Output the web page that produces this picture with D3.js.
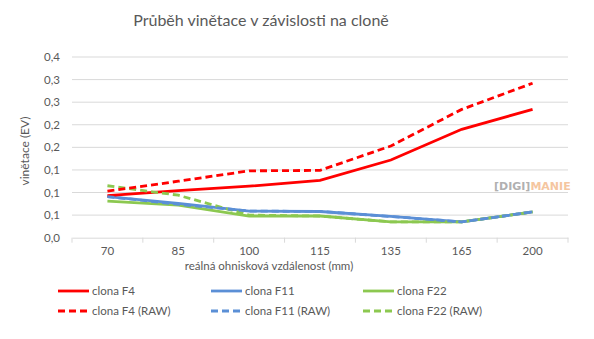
<!DOCTYPE html>
<html><head><meta charset="utf-8">
<script src="https://cdn.jsdelivr.net/npm/d3@7"></script>
<style>body{margin:0;background:#fff}svg{display:block}text{font-family:Lato,"Open Sans",sans-serif;fill:#595959}</style>
</head><body><svg id="c" width="594" height="339"></svg>
<script>
const categories = ["70","85","100","115","135","165","200"];
const yTicks = [0,0.05,0.1,0.15,0.2,0.25,0.3,0.35,0.4];
const yTickLabels = ["0,0","0,1","0,1","0,1","0,2","0,2","0,3","0,3","0,4"];
const f4 = [0.093,0.104,0.114,0.127,0.172,0.240,0.284];
const f11 = [0.091,0.076,0.059,0.058,0.047,0.035,0.057];
const f22 = [0.081,0.072,0.048,0.048,0.035,0.035,0.057];
const f4raw = [0.103,0.125,0.148,0.149,0.203,0.284,0.342];
const f11raw = [0.091,0.074,0.059,0.058,0.047,0.035,0.057];
const f22raw = [0.115,0.094,0.050,0.048,0.035,0.035,0.057];
const seriesNames = ["clona F4","clona F11","clona F22","clona F4 (RAW)","clona F11 (RAW)","clona F22 (RAW)"];
const seriesColors = ["#ff0000","#5b8fd6","#8cc850","#ff0000","#5b8fd6","#8cc850"];
const seriesData = [f4,f11,f22,f4raw,f11raw,f22raw];
const seriesDashed = [false,false,false,true,true,true];

const svg = d3.select("#c");
const L=72,R=568,T=57,B=237.7;
const x = d3.scaleBand().domain(categories).range([L,R]);
const y = d3.scaleLinear().domain([0,0.4]).range([B,T]);

svg.append("text").attr("x",261).attr("y",26).attr("text-anchor","middle")
  .style("font-size","16px").text("Průběh vinětace v závislosti na cloně");

svg.append("g").selectAll("line").data(yTicks.slice(1)).join("line")
  .attr("x1",L).attr("x2",R).attr("y1",d=>y(d)).attr("y2",d=>y(d))
  .attr("stroke","#d9d9d9").attr("stroke-width",1);

svg.append("g").selectAll("text").data(yTicks).join("text")
  .attr("x",60).attr("y",d=>y(d)+4).attr("text-anchor","end")
  .style("font-size","11.5px").text((d,i)=>yTickLabels[i]);

const xa = svg.append("g").attr("transform",`translate(0,${B})`)
  .call(d3.axisBottom(x).tickSize(0).tickPadding(9));
xa.select(".domain").attr("stroke","#d9d9d9");
xa.selectAll("text").style("font-size","11.5px").attr("fill","#595959").style("font-family","Lato");
const bounds = categories.map(c=>x(c)).concat([R]);
xa.selectAll("line.b").data(bounds).join("line").attr("class","b")
  .attr("x1",d=>d).attr("x2",d=>d).attr("y1",0).attr("y2",5).attr("stroke","#d9d9d9");

svg.append("text").attr("x",269).attr("y",270).attr("text-anchor","middle")
  .style("font-size","11.5px").text("reálná ohnisková vzdálenost (mm)");
svg.append("text").attr("transform","translate(29,151) rotate(-90)").attr("text-anchor","middle")
  .style("font-size","12px").text("vinětace (EV)");

const wm = svg.append("text").attr("x",494).attr("y",190).style("font-size","11px").style("font-weight","bold").style("font-family","'DejaVu Sans'");
wm.append("tspan").style("fill","#b0b0b0").text("[DIGI]");
wm.append("tspan").style("fill","#f5c6a0").text("MANIE");

const line = d3.line().x((d,i)=>x(categories[i])+x.bandwidth()/2).y(d=>y(d));
const order=[2,1,0,5,4,3];
order.forEach(i=>{
  svg.append("path").attr("d",line(seriesData[i])).attr("fill","none")
    .attr("stroke",seriesColors[i]).attr("stroke-width",2.8)
    .attr("stroke-dasharray",seriesDashed[i]?"7,4":null);
});

const colX=[58,211,363];
seriesNames.forEach((n,i)=>{
  const cx=colX[i%3], cy= i<3?291:311;
  svg.append("line").attr("x1",cx).attr("x2",cx+31).attr("y1",cy).attr("y2",cy)
    .attr("stroke",seriesColors[i]).attr("stroke-width",2.8).attr("stroke-dasharray",seriesDashed[i]?"7,4":null);
  svg.append("text").attr("x",cx+34).attr("y",cy+4).style("font-size","11.5px").text(n);
});
</script></body></html>
